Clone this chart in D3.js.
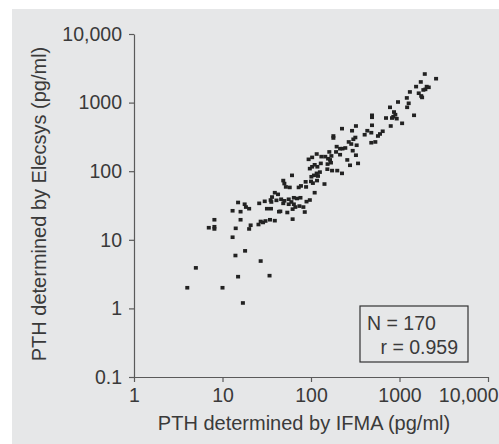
<!DOCTYPE html>
<html>
<head>
<meta charset="utf-8">
<script src="https://cdn.jsdelivr.net/npm/d3@7"></script>
<style>
  body { margin: 0; background: #fff; }
  svg text { font-family: "Liberation Sans", Arial, sans-serif; }
</style>
</head>
<body>
<div id="chart"></div>
<script>
// Tick labels
const xTicks = [1, 10, 100, 1000, 10000];
const xTickLabels = ["1", "10", "100", "1000", "10,000"];
const yTicks = [0.1, 1, 10, 100, 1000, 10000];
const yTickLabels = ["0.1", "1", "10", "100", "1000", "10,000"];

// PTH by IFMA (pg/ml)
const ifma = [
    4, 5, 10, 17, 15, 14, 18, 13, 27, 34,
    7, 8.1, 8.1, 8.1, 14.1, 16, 13, 16, 15, 17.8,
    18.4, 20, 20.8, 20, 25.5, 27, 28.7, 30.6, 34.4, 39,
    26, 30, 35, 35.6, 39, 40.7, 42.4, 31.8, 35.3, 43.5,
    36.3, 46, 50, 56, 64, 69.5, 76, 48.6, 56, 60,
    64, 89, 97, 45, 54, 62, 66.5, 74, 82, 85,
    62, 110, 48.6, 50, 52, 57.5, 61, 72.6, 77, 87,
    88, 100, 105, 117, 142, 101, 108, 120, 116, 126,
    153, 173, 198, 224, 97, 103, 110, 118, 129, 94,
    103, 116, 131, 145, 156, 164, 170, 161, 192, 213,
    154, 168, 257, 276, 340, 322, 296, 179, 179, 195,
    213, 227, 244, 267, 285, 328, 301, 317, 224, 291,
    322, 404, 433, 480, 489, 489, 489, 480, 533, 571,
    602, 646, 704, 796, 781, 823, 851, 867, 897, 930,
    962, 1070, 1210, 1220, 1270, 1310, 1460, 1540, 1650, 1740,
    1760, 1800, 1860, 1960, 1930, 2030, 2140, 2590
];
// PTH by Elecsys (pg/ml), same order
const elecsys = [
    2, 3.9, 2, 1.2, 2.9, 5.9, 6.9, 10.9, 4.9, 3,
    15, 15.5, 14.4, 19.6, 14.7, 19.6, 26.5, 25.7, 35, 33,
    30, 28.4, 16.3, 14.4, 16.7, 18.5, 17.9, 18.8, 19.6, 19,
    34, 36.4, 38, 35.6, 48.6, 37.6, 46, 28.4, 28.4, 25.7,
    42, 39, 37, 39, 41, 40, 41, 34, 33, 35.6,
    33, 36, 38, 26, 25, 28, 30, 31, 30, 25.4,
    20, 48.6, 73, 66, 59, 58, 87, 58, 61, 70,
    59, 71, 67, 73, 65, 83, 87, 85, 93, 97,
    107, 102, 102, 93, 109, 116, 124, 116, 130, 149,
    159, 178, 163, 163, 152, 146, 167, 191, 191, 174,
    127, 133, 146, 122, 130, 171, 199, 326, 305, 228,
    213, 213, 218, 267, 249, 239, 292, 310, 417, 389,
    456, 340, 389, 364, 467, 653, 611, 260, 267, 326,
    349, 382, 596, 456, 854, 596, 623, 729, 667, 583,
    1020, 499, 1170, 854, 977, 1430, 653, 1710, 1370, 2000,
    1250, 1190, 1530, 1560, 2610, 1710, 1670, 2230
];
const legendLines = ["N = 170", "r = 0.959"];

const width = 499, height = 444;
const axisColor = "#5a5a5a";
const textColor = "#3a3a3a";

const svg = d3.select("#chart").append("svg")
    .attr("width", width)
    .attr("height", height);

// Grey panel
svg.append("rect")
    .attr("x", 12).attr("y", 9)
    .attr("width", width - 12).attr("height", height - 9)
    .attr("fill", "#e6e7e8");

const x = d3.scaleLog().domain([1, 10000]).range([134, 488]);
const y = d3.scaleLog().domain([0.1, 10000]).range([377, 34]);

// Points
svg.append("g")
    .selectAll("rect")
    .data(ifma.map((v, i) => [v, elecsys[i]]))
    .join("rect")
    .attr("x", d => x(d[0]) - 2)
    .attr("y", d => y(d[1]) - 1.8)
    .attr("width", 4)
    .attr("height", 3.6)
    .attr("fill", "#222");

// Axes
const yAxis = svg.append("g")
    .attr("transform", "translate(134,0)")
    .call(d3.axisLeft(y)
        .tickValues(yTicks)
        .tickFormat((d, i) => yTickLabels[i])
        .tickSize(5)
        .tickSizeOuter(0)
        .tickPadding(7));

const xAxis = svg.append("g")
    .attr("transform", "translate(0,377)")
    .call(d3.axisBottom(x)
        .tickValues(xTicks)
        .tickFormat((d, i) => xTickLabels[i])
        .tickSize(5)
        .tickSizeOuter(0)
        .tickPadding(6));

// last x label pushed left so it fits
xAxis.selectAll(".tick text")
    .filter(d => d === 10000)
    .attr("text-anchor", "end")
    .attr("x", 10);

[xAxis, yAxis].forEach(g => {
    g.selectAll("path, line").attr("stroke", axisColor).attr("stroke-width", 1.2);
    g.selectAll("text")
        .attr("fill", textColor)
        .style("font-size", "19.5px");
});

// Axis titles
svg.append("text")
    .attr("x", 304)
    .attr("y", 430)
    .attr("text-anchor", "middle")
    .attr("fill", textColor)
    .style("font-size", "20px")
    .text("PTH determined by IFMA (pg/ml)");

svg.append("text")
    .attr("transform", "translate(46,204) rotate(-90)")
    .attr("text-anchor", "middle")
    .attr("fill", textColor)
    .style("font-size", "20px")
    .text("PTH determined by Elecsys (pg/ml)");

// Legend box
svg.append("rect")
    .attr("x", 360).attr("y", 306)
    .attr("width", 108).attr("height", 56)
    .attr("fill", "none")
    .attr("stroke", "#333")
    .attr("stroke-width", 1.2);

svg.append("text")
    .attr("x", 367).attr("y", 330)
    .attr("fill", textColor)
    .style("font-size", "19.5px")
    .text(legendLines[0]);

svg.append("text")
    .attr("x", 458).attr("y", 354)
    .attr("text-anchor", "end")
    .attr("fill", textColor)
    .style("font-size", "19.5px")
    .text(legendLines[1]);
</script>
</body>
</html>
